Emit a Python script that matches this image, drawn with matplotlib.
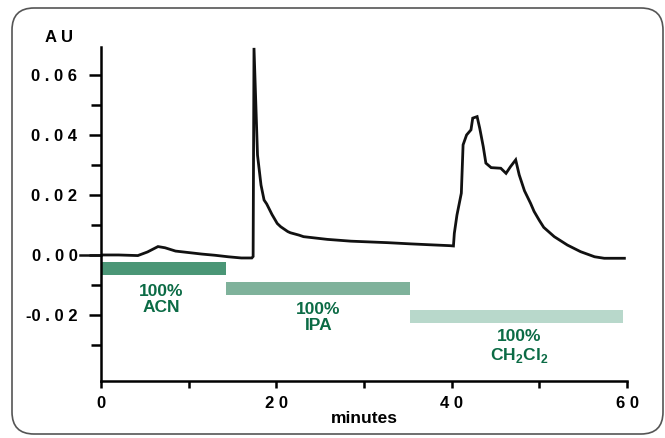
import matplotlib.pyplot as plt
from matplotlib.patches import FancyBboxPatch
from matplotlib.transforms import IdentityTransform

plt.rcParams['font.family'] = ['Liberation Sans', 'DejaVu Sans']
plt.rcParams['mathtext.fontset'] = 'custom'
plt.rcParams['mathtext.rm'] = 'Liberation Sans:bold'
plt.rcParams['mathtext.bf'] = 'Liberation Sans:bold'

# chromatogram trace (minutes, AU)
minutes = [0.1, 2.0, 4.2, 5.3, 6.5, 7.3, 8.5, 10.0, 11.5, 13.0, 14.5, 16.0, 17.2,
           17.35, 17.45, 17.85, 18.25, 18.6, 18.9, 19.5, 20.1, 20.5, 21.3, 21.6,
           22.6, 23.1, 25.8, 28.5, 32.7, 35.3, 37.5, 39.8, 40.2, 40.3, 40.6, 41.1,
           41.3, 41.7, 42.2, 42.4, 42.9, 43.2, 43.6, 43.9, 44.5, 45.6, 46.2, 46.7,
           47.3, 47.7, 48.3, 49.0, 49.4, 50.0, 50.5, 51.7, 53.2, 54.7, 56.3, 57.4,
           59.7]
au = [0.0, 0.0, -0.0002, 0.001, 0.0028, 0.0024, 0.0013, 0.0008, 0.0003, -0.0001,
      -0.0006, -0.001, -0.001,
      -0.0005, 0.069, 0.0333, 0.0233, 0.0183, 0.017, 0.0135, 0.0105, 0.0094, 0.0078,
      0.0074, 0.0066, 0.0061, 0.0052, 0.0046, 0.0041, 0.0037, 0.0034, 0.0031, 0.003,
      0.0072, 0.0133, 0.0206, 0.0367, 0.040, 0.0417, 0.0456, 0.0461, 0.0422, 0.0361,
      0.0306, 0.0291, 0.0289, 0.0272, 0.0294, 0.0317, 0.0267, 0.0214, 0.0172, 0.0145,
      0.0115, 0.0092, 0.0061, 0.0033, 0.0011, -0.0006, -0.0011, -0.0011]

# solvent gradient bars
solvents = ['ACN', 'IPA', 'CH$_\\mathrm{2}$Cl$_\\mathrm{2}$']
bar_start = [0.1, 14.3, 35.3]
bar_end = [14.3, 35.2, 59.5]
bar_y = [-0.0045, -0.0112, -0.0205]
bar_colors = ['#4a9676', '#7fb29b', '#b8d8cb']
label_x = [6.9, 24.8, 47.7]
label_y = [-0.0148, -0.0208, -0.0307]

xticks = [0, 20, 40, 60]
yticks = [-0.02, 0.0, 0.02, 0.04, 0.06]

fig = plt.figure(figsize=(6.65, 4.38), dpi=100)
ax = fig.add_axes([0.1519, 0.1301, 0.7910, 0.7626])

frame = FancyBboxPatch((12, 438 - 434), 651, 426,
                       boxstyle="round,pad=0,rounding_size=22",
                       transform=IdentityTransform(), facecolor='none',
                       edgecolor='#555555', linewidth=1.2)
fig.patches.append(frame)

ax.plot(minutes, au, color='#111111', linewidth=2.0, solid_joinstyle='miter')

for s, e, y, c in zip(bar_start, bar_end, bar_y, bar_colors):
    ax.barh(y, e - s, left=s, height=0.0043, color=c, linewidth=0)

for name, x, y in zip(solvents, label_x, label_y):
    ax.text(x, y, '100%\n' + name, ha='center', va='center', color='#0b6b45',
            fontsize=12.5, fontweight='bold', linespacing=1.12)

ax.set_xlim(0, 60)
ax.set_ylim(-0.042, 0.0693)
ax.spines['top'].set_visible(False)
ax.spines['right'].set_visible(False)
ax.spines['left'].set_linewidth(1.8)
ax.spines['bottom'].set_linewidth(1.8)

ax.set_xticks(xticks)
ax.set_xticklabels([' '.join(str(v)) for v in xticks])
ax.set_xticks([10, 30, 50], minor=True)
ax.set_yticks(yticks)
ax.set_yticklabels([' '.join('%.2f' % v).replace('- ', '-') for v in yticks])
ax.set_yticks([-0.03, -0.01, 0.01, 0.03, 0.05], minor=True)

ax.tick_params(axis='x', which='both', length=5, width=1.8, pad=6, labelsize=12)
ax.tick_params(axis='y', which='major', length=9, width=1.8, pad=8, labelsize=12)
ax.tick_params(axis='y', which='minor', length=7, width=1.8)
for lab in ax.get_xticklabels() + ax.get_yticklabels():
    lab.set_fontweight('bold')

# longer tick at zero
ax.plot([-0.04, 0], [0, 0], transform=ax.get_yaxis_transform(), color='#111111',
        linewidth=1.8, clip_on=False)

ax.set_xlabel('minutes', fontsize=12.5, fontweight='bold', labelpad=0)
fig.text(45 / 665, 1 - 38 / 438, 'A U', fontsize=12, fontweight='bold',
         ha='left', va='center')

fig.savefig('out.png', dpi=100)
